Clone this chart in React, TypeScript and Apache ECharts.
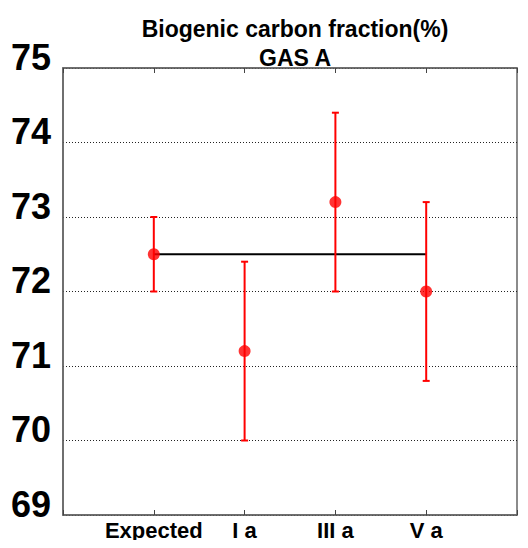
import React, { useEffect, useRef } from "react";
import * as echarts from "echarts";

const categories = ["Expected", "I a", "III a", "V a"];
const positions = [1, 2, 3, 4];
const values = [72.5, 71.2, 73.2, 72.0];
const lower = [72.0, 70.0, 72.0, 70.8];
const upper = [73.0, 72.4, 74.4, 73.2];
const expectedLine = [[1, 72.5], [4, 72.5]];
const yTicks = [69, 70, 71, 72, 73, 74, 75];

const FONT = "'Liberation Sans', Arial, Helvetica, sans-serif";

export default function App() {
  const ref = useRef<HTMLDivElement>(null);
  useEffect(() => {
    if (!ref.current) return;
    const chart = echarts.init(ref.current, null, { renderer: "svg" });
    const errData = positions.map((p, i) => [p, lower[i], upper[i]]);
    chart.setOption({
      animation: false,
      backgroundColor: "#ffffff",
      title: {
        text: "Biogenic carbon fraction(%)\nGAS A",
        left: 290,
        top: 9,
        textAlign: "center",
        textStyle: {
          fontFamily: FONT,
          fontSize: 23,
          fontWeight: "bold",
          lineHeight: 29,
          color: "#000",
        },
      },
      grid: {
        left: 63,
        right: 11,
        top: 68,
        bottom: 33,
        show: true,
        borderColor: "#666",
        borderWidth: 1.5,
        backgroundColor: "transparent",
      },
      xAxis: [
        {
          type: "value",
          min: 0,
          max: 5,
          interval: 1,
          position: "bottom",
          axisLine: { show: true, lineStyle: { color: "#666", width: 1.5 } },
          axisTick: { show: true, inside: true, length: 5, lineStyle: { color: "#444", width: 1 } },
          splitLine: { show: false },
          axisLabel: {
            fontFamily: FONT,
            fontSize: 22,
            fontWeight: "bold",
            color: "#000",
            margin: 4,
            lineHeight: 22,
            formatter: (v: number) => {
              const idx = positions.indexOf(Math.round(v));
              return idx >= 0 ? categories[idx] : "";
            },
          },
        },
        {
          type: "value",
          min: 0,
          max: 5,
          interval: 1,
          position: "top",
          axisLine: { show: true, lineStyle: { color: "#666", width: 1.5 } },
          axisTick: { show: true, inside: true, length: 5, lineStyle: { color: "#444", width: 1 } },
          splitLine: { show: false },
          axisLabel: { show: false },
        },
      ],
      yAxis: {
        type: "value",
        min: yTicks[0],
        max: yTicks[yTicks.length - 1],
        interval: 1,
        axisLine: { show: true, lineStyle: { color: "#666", width: 1.5 } },
        axisTick: { show: false },
        splitLine: { show: true, lineStyle: { color: "#222", type: [1, 2], width: 1 } },
        axisLabel: {
          fontFamily: FONT,
          fontSize: 36,
          fontWeight: "bold",
          color: "#000",
          margin: 12,
          verticalAlign: "bottom",
          lineHeight: 22,
        },
      },
      series: [
        {
          type: "line",
          data: expectedLine,
          symbol: "none",
          lineStyle: { color: "#000", width: 2 },
          z: 2,
        },
        {
          type: "custom",
          data: errData,
          z: 3,
          renderItem: (params: any, api: any) => {
            const x = api.value(0);
            const lo = api.coord([x, api.value(1)]);
            const hi = api.coord([x, api.value(2)]);
            const cap = 3.5;
            const style = { stroke: "#ff0000", lineWidth: 2 };
            return {
              type: "group",
              children: [
                { type: "line", shape: { x1: lo[0], y1: lo[1], x2: hi[0], y2: hi[1] }, style },
                { type: "line", shape: { x1: lo[0] - cap, y1: lo[1], x2: lo[0] + cap, y2: lo[1] }, style },
                { type: "line", shape: { x1: hi[0] - cap, y1: hi[1], x2: hi[0] + cap, y2: hi[1] }, style },
              ],
            };
          },
        },
        {
          type: "scatter",
          data: positions.map((p, i) => [p, values[i]]),
          symbol: "circle",
          symbolSize: 12,
          itemStyle: { color: "#ff0000" },
          z: 4,
        },
      ],
    });
    return () => chart.dispose();
  }, []);
  return <div ref={ref} style={{ width: 528, height: 548, margin: -8 }} />;
}
